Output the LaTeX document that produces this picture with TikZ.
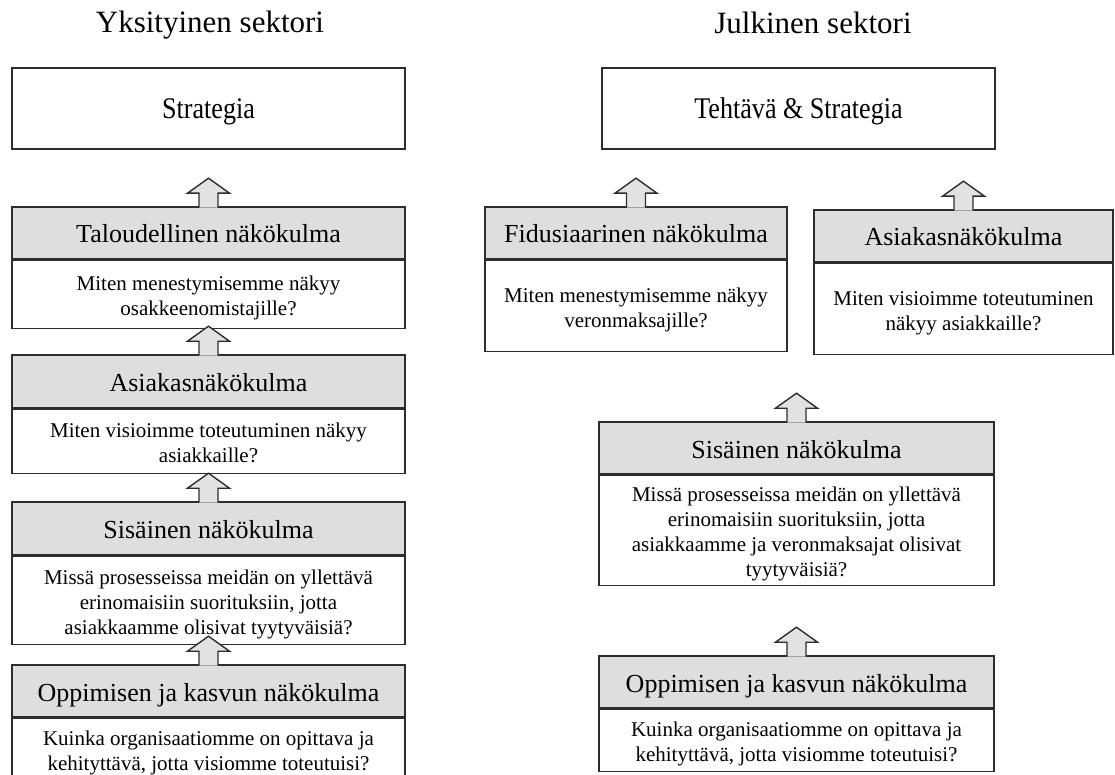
\documentclass[tikz,border=0pt]{standalone}
\usepackage{fontspec}
\setmainfont{Liberation Serif}
\definecolor{edge}{RGB}{45,45,45}
\definecolor{hdrgray}{RGB}{222,222,222}
\definecolor{arrgray}{RGB}{226,226,226}
% struts that fix where the baselines sit inside the boxes
\newcommand\headstrut{\rule[-6pt]{0pt}{32pt}}
\newcommand\stratstrut{\rule[-8pt]{0pt}{36pt}}
\newcommand\bodytop{\rule{0pt}{22pt}}
\newcommand\bodybot{\rule[-5pt]{0pt}{5pt}}
\tikzset{
  frame/.style={draw=edge, line width=1.6pt},
  stratbox/.style={frame, fill=white, inner sep=0pt, minimum height=81pt,
    font=\fontsize{30}{36}\selectfont},
  hdr/.style={frame, fill=hdrgray, inner sep=0pt, minimum height=52pt,
    font=\fontsize{26}{31}\selectfont},
  bdy/.style={frame, fill=white, inner sep=0pt, align=center, anchor=north,
    font=\fontsize{21}{25}\selectfont},
  uparrow/.style={draw=edge, line width=1.4pt, fill=arrgray, line join=miter},
  title/.style={font=\fontsize{31}{37}\selectfont, anchor=base, inner sep=0pt}
}
% block arrow standing on top of a header node
\newcommand\uparr[1]{%
  \draw[uparrow] ([xshift=-9.5pt,yshift=-1.5pt]#1.north) -- ++(0,-14.5)
    -- ++(-11.5,0) -- ++(21,-15) -- ++(21,15) -- ++(-11.5,0) -- ++(0,14.5);}
\begin{document}
\begin{tikzpicture}[x=1pt,y=-1pt]
\useasboundingbox (0,0) rectangle (1115,775);

% ---- private sector ----
\node[title] (ttl-l) at (210,33) {Yksityinen sektori};
\node[stratbox, minimum width=393pt] (strat) at (208.5,108.5)
  {\stratstrut\scalebox{0.87}[1]{Strategia}};

\node[hdr, minimum width=393pt] (tal-h) at (208.5,233) {\headstrut Taloudellinen näkökulma};
\node[bdy, minimum width=393pt, minimum height=68pt] (tal-b) at (tal-h.south)
  {\bodytop Miten menestymisemme näkyy\\ osakkeenomistajille?\bodybot};

\node[hdr, minimum width=393pt, minimum height=53pt] (asi-h) at (208.5,381.5) {\headstrut Asiakasnäkökulma};
\node[bdy, minimum width=393pt, minimum height=64pt] (asi-b) at (asi-h.south)
  {\bodytop Miten visioimme toteutuminen näkyy\\ asiakkaille?\bodybot};

\node[hdr, minimum width=393pt, minimum height=53pt] (sis-h) at (208.5,528.5) {\headstrut Sisäinen näkökulma};
\node[bdy, minimum width=393pt, minimum height=88pt] (sis-b) at (sis-h.south)
  {\bodytop Missä prosesseissa meidän on yllettävä\\ erinomaisiin suorituksiin, jotta\\ asiakkaamme olisivat tyytyväisiä?\bodybot};

\node[hdr, minimum width=393pt] (opp-h) at (208.5,691) {\headstrut Oppimisen ja kasvun näkökulma};
\node[bdy, minimum width=393pt, minimum height=62pt] (opp-b) at (opp-h.south)
  {\bodytop Kuinka organisaatiomme on opittava ja\\ kehityttävä, jotta visiomme toteutuisi?\bodybot};

\uparr{tal-h}
\uparr{asi-h}
\uparr{sis-h}
\uparr{opp-h}

% ---- public sector ----
\node[title] (ttl-r) at (813,34) {Julkinen sektori};
\node[stratbox, minimum width=393pt] (teh) at (798.5,108.5)
  {\stratstrut\scalebox{0.87}[1]{Tehtävä \& Strategia}};

\node[hdr, minimum width=302pt] (fid-h) at (636,233) {\headstrut Fidusiaarinen näkökulma};
\node[bdy, minimum width=302pt, minimum height=91pt] (fid-b) at (fid-h.south)
  {\bodytop Miten menestymisemme näkyy\\ veronmaksajille?\bodybot};

\node[hdr, minimum width=299pt] (asr-h) at (963.5,236) {\headstrut Asiakasnäkökulma};
\node[bdy, minimum width=299pt, minimum height=91pt] (asr-b) at (asr-h.south)
  {\bodytop Miten visioimme toteutuminen\\ näkyy asiakkaille?\bodybot};

\node[hdr, minimum width=395pt] (sir-h) at (796.5,448) {\headstrut Sisäinen näkökulma};
\node[bdy, minimum width=395pt, minimum height=110pt] (sir-b) at (sir-h.south)
  {\bodytop Missä prosesseissa meidän on yllettävä\\ erinomaisiin suorituksiin, jotta\\ asiakkaamme ja veronmaksajat olisivat\\ tyytyväisiä?\bodybot};

\node[hdr, minimum width=395pt] (opr-h) at (796.5,682) {\headstrut Oppimisen ja kasvun näkökulma};
\node[bdy, minimum width=395pt, minimum height=62pt] (opr-b) at (opr-h.south)
  {\bodytop Kuinka organisaatiomme on opittava ja\\ kehityttävä, jotta visiomme toteutuisi?\bodybot};

\uparr{fid-h}
\uparr{asr-h}
\uparr{sir-h}
\uparr{opr-h}
\end{tikzpicture}
\end{document}
